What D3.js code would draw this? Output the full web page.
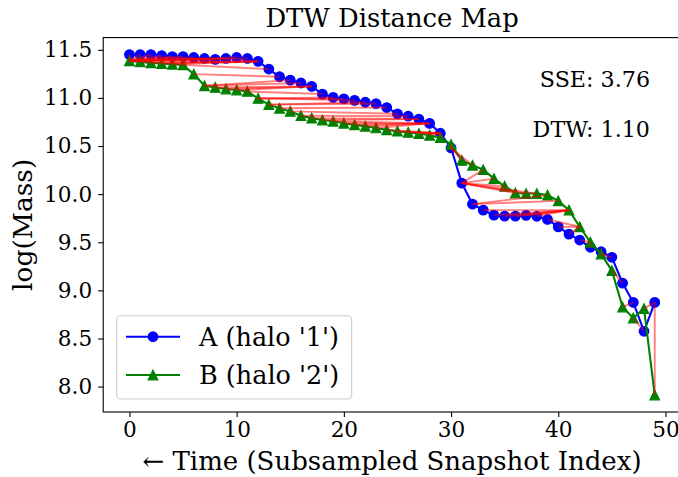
<!DOCTYPE html>
<html>
<head>
<meta charset="utf-8">
<script src="https://cdn.jsdelivr.net/npm/d3@7"></script>
<style>
  html, body { margin: 0; padding: 0; background: #fff; }
  svg { display: block; font-family: "DejaVu Serif", serif; }
</style>
</head>
<body>
<svg id="chart" width="678" height="477"></svg>
<script>
// Snapshot index (time runs backwards along x)
const snapshotIndex = d3.range(50);

// log(Mass) track of halo '1'
const seriesA = [
  11.45, 11.45, 11.45, 11.44, 11.43, 11.43, 11.42, 11.41, 11.40, 11.41,
  11.42, 11.41, 11.38, 11.30, 11.22, 11.185, 11.155, 11.12, 11.04, 11.005,
  10.99, 10.975, 10.955, 10.94, 10.90, 10.835, 10.81, 10.78, 10.735, 10.633,
  10.48, 10.115, 9.896, 9.834, 9.782, 9.771, 9.771, 9.78, 9.77, 9.737,
  9.66, 9.585, 9.523, 9.448, 9.402, 9.344, 9.075, 8.875, 8.575, 8.875
];

// log(Mass) track of halo '2'
const seriesB = [
  11.385, 11.374, 11.364, 11.357, 11.35, 11.343, 11.247, 11.126, 11.109, 11.092,
  11.082, 11.067, 10.995, 10.93, 10.892, 10.86, 10.815, 10.79, 10.77, 10.757,
  10.737, 10.72, 10.705, 10.688, 10.668, 10.654, 10.642, 10.63, 10.612, 10.587,
  10.516, 10.35, 10.30, 10.254, 10.161, 10.082, 10.012, 10.006, 10.006, 9.99,
  9.93, 9.834, 9.661, 9.50, 9.378, 9.206, 8.827, 8.713, 8.81, 7.913
];

const xTicks = [0, 10, 20, 30, 40, 50];
const yTicks = [8.0, 8.5, 9.0, 9.5, 10.0, 10.5, 11.0, 11.5];
const seriesNames = ["A (halo '1')", "B (halo '2')"];
const statLabels = ["SSE: 3.76", "DTW: 1.10"];

// Dynamic time warping alignment between the two tracks
function dtwPath(a, b) {
  const n = a.length, m = b.length;
  const C = Array.from({length: n}, () => new Array(m).fill(Infinity));
  for (let i = 0; i < n; i++) {
    for (let j = 0; j < m; j++) {
      const d = Math.abs(a[i] - b[j]);
      if (i === 0 && j === 0) { C[i][j] = d; continue; }
      const best = Math.min(
        i > 0 && j > 0 ? C[i-1][j-1] : Infinity,
        i > 0 ? C[i-1][j] : Infinity,
        j > 0 ? C[i][j-1] : Infinity);
      C[i][j] = d + best;
    }
  }
  const path = [];
  let i = n - 1, j = m - 1;
  path.push([i, j]);
  while (i > 0 || j > 0) {
    if (i === 0) j--;
    else if (j === 0) i--;
    else {
      const diag = C[i-1][j-1], up = C[i-1][j], left = C[i][j-1];
      if (diag <= up && diag <= left) { i--; j--; }
      else if (up <= left) i--;
      else j--;
    }
    path.push([i, j]);
  }
  return path.reverse();
}

const svg = d3.select("#chart");
const margin = {left: 103.2, right: 681, top: 37.6, bottom: 412};

const xExtent = d3.extent(snapshotIndex);
const allY = seriesA.concat(seriesB);
const yExtent = d3.extent(allY);
const xPad = (xExtent[1] - xExtent[0]) * 0.05;
const yPad = (yExtent[1] - yExtent[0]) * 0.05;

const x = d3.scaleLinear()
  .domain([xExtent[0] - xPad, xExtent[1] + xPad])
  .range([margin.left, margin.right]);
const y = d3.scaleLinear()
  .domain([yExtent[0] - yPad, yExtent[1] + yPad])
  .range([margin.bottom, margin.top]);

const blue = "#0000ff", green = "#008000", red = "#ff0000";
const r = 4.8;
const triangle = (s) => `M0,${-s}L${s},${s}L${-s},${s}Z`;

// Axes frame
svg.append("rect")
  .attr("x", margin.left).attr("y", margin.top)
  .attr("width", margin.right - margin.left)
  .attr("height", margin.bottom - margin.top)
  .attr("fill", "none").attr("stroke", "#000").attr("stroke-width", 1.1);

// Axes
const xAxis = svg.append("g")
  .attr("transform", `translate(0,${margin.bottom})`)
  .call(d3.axisBottom(x).tickValues(xTicks).tickFormat(d3.format("d"))
    .tickSizeOuter(0).tickSize(5).tickPadding(5));
const yAxis = svg.append("g")
  .attr("transform", `translate(${margin.left},0)`)
  .call(d3.axisLeft(y).tickValues(yTicks).tickFormat(d3.format(".1f"))
    .tickSizeOuter(0).tickSize(5).tickPadding(6));
[xAxis, yAxis].forEach(g => {
  g.select(".domain").remove();
  g.selectAll("line").attr("stroke", "#000").attr("stroke-width", 1.1);
  g.selectAll("text").attr("fill", "#000")
    .style("font-family", "DejaVu Serif").style("font-size", "21.6px");
});

// Series lines and markers
const line = d3.line().x((d, i) => x(snapshotIndex[i])).y(d => y(d));

const gA = svg.append("g");
gA.append("path").datum(seriesA).attr("d", line)
  .attr("fill", "none").attr("stroke", blue).attr("stroke-width", 2.1);
gA.selectAll("circle").data(seriesA).join("circle")
  .attr("cx", (d, i) => x(snapshotIndex[i])).attr("cy", d => y(d))
  .attr("r", r).attr("fill", blue).attr("stroke", blue).attr("stroke-width", 1.2);

const gB = svg.append("g");
gB.append("path").datum(seriesB).attr("d", line)
  .attr("fill", "none").attr("stroke", green).attr("stroke-width", 2.1);
gB.selectAll("path.tri").data(seriesB).join("path").attr("class", "tri")
  .attr("transform", (d, i) => `translate(${x(snapshotIndex[i])},${y(d)})`)
  .attr("d", triangle(r)).attr("fill", green).attr("stroke", green).attr("stroke-width", 1.2);

// DTW correspondence lines
const path = dtwPath(seriesA, seriesB);
svg.append("g").selectAll("line").data(path).join("line")
  .attr("x1", d => x(snapshotIndex[d[0]])).attr("y1", d => y(seriesA[d[0]]))
  .attr("x2", d => x(snapshotIndex[d[1]])).attr("y2", d => y(seriesB[d[1]]))
  .attr("stroke", red).attr("stroke-opacity", 0.5).attr("stroke-width", 1.9);

// Title and axis labels
svg.append("text").attr("x", (margin.left + margin.right) / 2).attr("y", 27)
  .attr("text-anchor", "middle").style("font-size", "25.8px").text("DTW Distance Map");
svg.append("text").attr("x", 392).attr("y", 470)
  .attr("text-anchor", "middle").style("font-size", "26px")
  .text("\u2190 Time (Subsampled Snapshot Index)");
svg.append("text")
  .attr("transform", `translate(32,${(margin.top + margin.bottom) / 2}) rotate(-90)`)
  .attr("text-anchor", "middle").style("font-size", "26.5px").text("log(Mass)");

// Statistics
svg.selectAll("text.stat").data(statLabels).join("text").attr("class", "stat")
  .attr("x", 650).attr("y", (d, i) => 87 + i * 50)
  .attr("text-anchor", "end").style("font-size", "22.2px").text(d => d);

// Legend
const lg = svg.append("g");
lg.append("rect").attr("x", 116.7).attr("y", 315.7).attr("width", 235).attr("height", 83.3)
  .attr("rx", 4).attr("fill", "#fff").attr("fill-opacity", 0.8)
  .attr("stroke", "#cccccc").attr("stroke-width", 1.1);
const rows = [
  {name: seriesNames[0], color: blue, kind: "circle", y: 336.7},
  {name: seriesNames[1], color: green, kind: "tri", y: 375}
];
rows.forEach(row => {
  lg.append("line").attr("x1", 126).attr("x2", 180).attr("y1", row.y).attr("y2", row.y)
    .attr("stroke", row.color).attr("stroke-width", 2.1);
  if (row.kind === "circle") {
    lg.append("circle").attr("cx", 153).attr("cy", row.y).attr("r", r)
      .attr("fill", row.color).attr("stroke", row.color).attr("stroke-width", 1.2);
  } else {
    lg.append("path").attr("transform", `translate(153,${row.y})`).attr("d", triangle(r))
      .attr("fill", row.color).attr("stroke", row.color).attr("stroke-width", 1.2);
  }
  lg.append("text").attr("x", 199).attr("y", row.y + 9)
    .style("font-size", "25.5px").text(row.name);
});
</script>
</body>
</html>
